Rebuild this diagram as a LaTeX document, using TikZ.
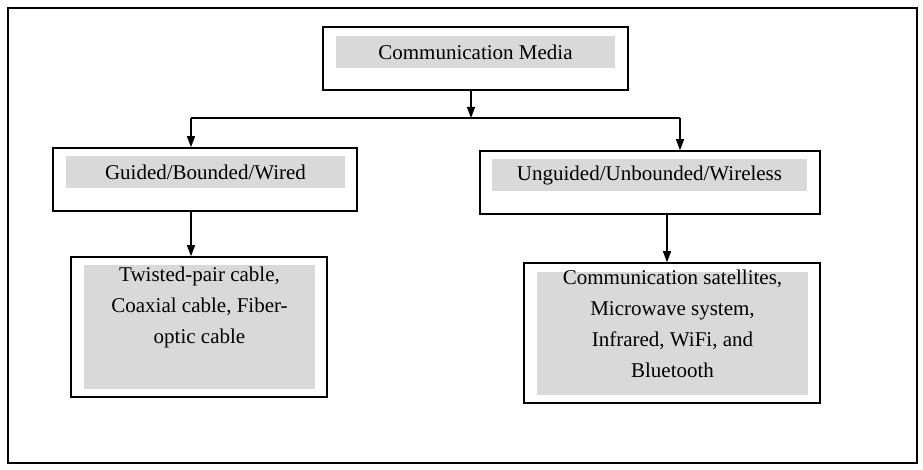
\documentclass[tikz,border=0pt]{standalone}
\usepackage{fontspec}
\setmainfont{Liberation Serif}
\usetikzlibrary{arrows.meta}
\tikzset{
  box/.style={draw,line width=1.6pt,inner sep=0pt},
  shade/.style={fill=black!15,inner sep=0pt,align=center,
                font=\fontsize{21}{31}\selectfont},
  link/.style={line width=1.4pt,-{Triangle[length=11pt,width=8pt]}}
}
\begin{document}
\begin{tikzpicture}[x=1pt,y=-1pt]
      \useasboundingbox (0,0) rectangle (923,470);
      \draw[line width=1.6pt] (8,8) rectangle (917,463);

      % outer boxes
      \node[box,minimum width=305,minimum height=63] (media) at (475.5,58.5) {};
      \node[box,minimum width=304,minimum height=63] (guided) at (205,179.5) {};
      \node[box,minimum width=340,minimum height=63] (wireless) at (650,182.5) {};
      \node[box,minimum width=256,minimum height=140] (cables) at (199,327) {};
      \node[box,minimum width=296,minimum height=140] (radio) at (672,333) {};

      % grey labels
      \node[shade,minimum width=279,minimum height=32] (mediatxt) at (475.5,52) {Communication Media};
      \node[shade,minimum width=279,minimum height=32] (guidedtxt) at (205.5,172) {Guided/Bounded/Wired};
      \node[shade,minimum width=315,minimum height=32] (wirelesstxt) at (649.5,175) {Unguided/Unbounded/Wireless};
      \fill[black!15] (84,265) rectangle (315,389);
      \node[shade,fill=none,anchor=north] (cablestxt) at (199.5,267)
        {Twisted-pair cable,\\Coaxial cable, Fiber-\\optic cable};
      \fill[black!15] (537,272) rectangle (808,395);
      \node[shade,fill=none,anchor=north] (radiotxt) at (672.5,270)
        {Communication satellites,\\Microwave system,\\Infrared, WiFi, and\\Bluetooth};

      % connectors
      \coordinate (split) at (471,118);
      \coordinate (gl) at (191,118);
      \coordinate (gr) at (680,118);
      \draw[link] (media.south -| split) -- (split);
      \draw[line width=1.4pt] (gl) -- (gr);
      \draw[link] (gl) -- (gl |- guided.north);
      \draw[link] (gr) -- (gr |- wireless.north);
      \draw[link] (guided.south -| gl) -- (gl |- cables.north);
      \coordinate (wr) at (667,214);
      \draw[link] (wireless.south -| wr) -- (wr |- radio.north);
    \end{tikzpicture}
\end{document}
